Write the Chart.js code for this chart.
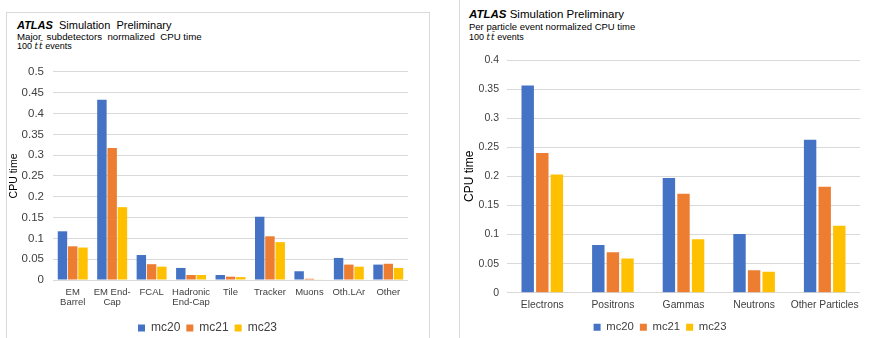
<!DOCTYPE html>
<html>
<head>
<meta charset="utf-8">
<script src="https://cdn.jsdelivr.net/npm/chart.js@4.4.0/dist/chart.umd.min.js"></script>
<style>
body{margin:0;background:#fff;width:872px;height:338px;overflow:hidden;position:relative;font-family:"Liberation Sans",Arial,sans-serif;color:#000}
.panel{position:absolute;border:1px solid #d9d9d9;background:#fff}
.hd{position:absolute;white-space:nowrap;line-height:1}
.box{position:absolute}
</style>
</head>
<body>
<div class="panel" style="left:6px;top:12px;width:422px;height:340px"></div>
<div class="panel" style="left:459px;top:-2px;width:420px;height:350px"></div>

<div class="hd" style="left:17px;top:20px;font-size:11px"><b><i>ATLAS</i></b>&nbsp; Simulation&nbsp; Preliminary</div>
<div class="hd" style="left:17px;top:32px;font-size:9.7px">Major&nbsp; subdetectors&nbsp; normalized&nbsp; CPU time</div>
<div class="hd" style="left:17px;top:41.5px;font-size:9px">100 <i style="font-family:'DejaVu Serif'">t&#8202;t&#772;</i> events</div>

<div class="hd" style="left:469px;top:9px;font-size:11.5px"><b><i>ATLAS</i></b> Simulation Preliminary</div>
<div class="hd" style="left:469px;top:22px;font-size:9.5px">Per particle event normalized CPU time</div>
<div class="hd" style="left:469px;top:33px;font-size:9px">100 <i style="font-family:'DejaVu Serif'">t&#8202;t&#772;</i> events</div>

<div class="box" style="left:7px;top:56px;width:421px;height:288px"><canvas id="leftChart"></canvas></div>
<div class="box" style="left:460px;top:45px;width:412px;height:298px"><canvas id="rightChart"></canvas></div>

<script>
var seriesNames = ['mc20','mc21','mc23'];
var seriesColors = ['#4472C4','#ED7D31','#FFC000'];

// left: major subdetectors
var detectors = [['EM','Barrel'],['EM End-','Cap'],'FCAL',['Hadronic','End-Cap'],'Tile','Tracker','Muons','Oth.LAr','Other'];
var detMc20 = [0.117,0.433,0.060,0.029,0.012,0.152,0.021,0.053,0.037];
var detMc21 = [0.081,0.317,0.038,0.012,0.008,0.105,0.003,0.037,0.039];
var detMc23 = [0.078,0.175,0.032,0.012,0.007,0.091,0.001,0.032,0.029];
var detTicksMax = 0.5;

// right: per particle
var particles = ['Electrons','Positrons','Gammas','Neutrons','Other Particles'];
var partMc20 = [0.356,0.082,0.197,0.101,0.263];
var partMc21 = [0.240,0.0695,0.170,0.0385,0.182];
var partMc23 = [0.203,0.059,0.092,0.036,0.115];
var partTicksMax = 0.4;

Chart.defaults.font.family = '"Liberation Sans", Arial, sans-serif';
Chart.defaults.color = '#595959';

function makeSets(vals, catPct, barPct){
    var sets = [];
    for(var i=0;i<vals.length;i++){
        sets.push({
            label: seriesNames[i],
            data: vals[i],
            backgroundColor: seriesColors[i],
            borderWidth: 0,
            categoryPercentage: catPct,
            barPercentage: barPct
        });
    }
    return sets;
}

function drawChart(id, labels, vals, opt){
    var ctx = document.getElementById(id).getContext('2d');
    return new Chart(ctx, {
        type: 'bar',
        data: { labels: labels, datasets: makeSets(vals, opt.catPct, opt.barPct) },
        options: {
            responsive: true,
            maintainAspectRatio: false,
            animation: false,
            layout: { padding: { top: opt.padTop, right: opt.padRight, bottom: 0, left: 0 } },
            plugins: {
                legend: {
                    position: 'bottom',
                    labels: { boxWidth: 7, boxHeight: 7, padding: 6, color: '#404040', font: { size: opt.legendSize } }
                },
                tooltip: { enabled: false }
            },
            scales: {
                x: {
                    grid: { display: false, drawTicks: false },
                    border: { display: false },
                    ticks: { padding: opt.xPad, maxRotation: 0, autoSkip: false, color: '#404040', font: { size: opt.xSize, lineHeight: 1.1 } },
                    afterFit: function(s){ s.height = opt.xHeight; }
                },
                y: {
                    min: 0, max: opt.max,
                    grid: { color: '#d9d9d9', drawTicks: false },
                    border: { display: false },
                    ticks: {
                        stepSize: 0.05, padding: opt.yPad, color: '#404040', font: { size: opt.ySize },
                        callback: function(v){ return +v.toFixed(2); }
                    },
                    title: { display: true, text: 'CPU time', color: '#000', padding: { top: opt.titlePad, bottom: 0 }, font: { size: opt.titleSize } },
                    afterFit: function(s){ s.width = opt.yWidth; }
                }
            }
        }
    });
}

drawChart('leftChart', detectors, [detMc20, detMc21, detMc23], {
    catPct: 0.78, barPct: 0.92, padTop: 13, padRight: 20,
    legendSize: 12, xSize: 9.5, xPad: 7, xHeight: 36, yPad: 9, ySize: 11.5,
    titlePad: 1, titleSize: 10.5, yWidth: 46, max: detTicksMax
});

drawChart('rightChart', particles, [partMc20, partMc21, partMc23], {
    catPct: 0.62, barPct: 0.85, padTop: 15, padRight: 12,
    legendSize: 11.3, xSize: 10.3, xPad: 7, xHeight: 23, yPad: 8, ySize: 10.5,
    titlePad: 2, titleSize: 12, yWidth: 47, max: partTicksMax
});
</script>
</body>
</html>
